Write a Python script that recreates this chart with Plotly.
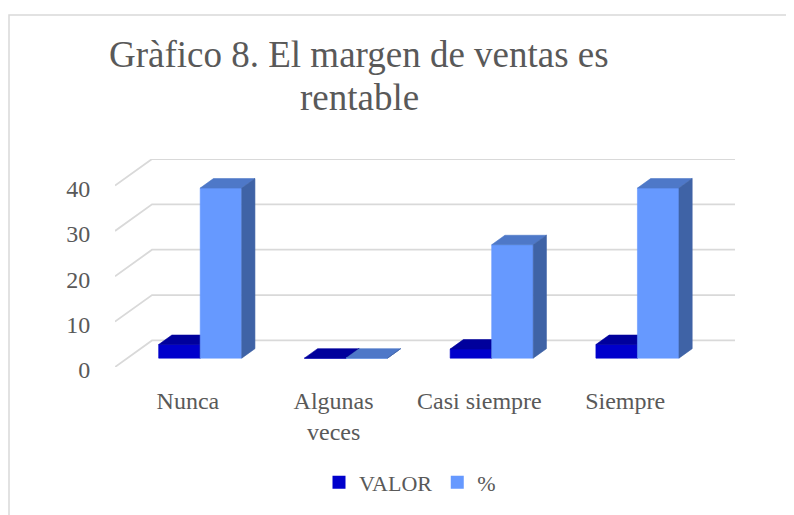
import plotly.graph_objects as go

# ---------------- data ----------------
categories = ["Nunca", "Algunas veces", "Casi siempre", "Siempre"]
tick_labels = ["Nunca", "Algunas<br>veces", "Casi siempre", "Siempre"]
series_names = ["VALOR", "%"]
valor = [3, 0, 2, 3]
porcentaje = [37.5, 0, 25, 37.5]
y_ticks = [0, 10, 20, 30, 40]
title_lines = ["Gràfico 8. El margen de ventas es", "rentable"]

# ---------------- layout / style constants ----------------
OFF = 8                      # default page margin of the html body
W_PX, H_PX = 794 - OFF, 515 - OFF
ML, MT = 115 - OFF, 159 - OFF
PLOT_W, PLOT_H = 620, 211
MR = W_PX - ML - PLOT_W
MB = H_PX - MT - PLOT_H

# oblique projection of the 3-D box (depth vector in data units)
DX, DY = 0.254, 5.86
D0, D1 = 0.333, 0.69      # front / back depth of the bars
BW = 0.285                 # bar width in category units

X_RANGE = [-0.5, len(categories) - 0.5 + DX]
Y_RANGE = [0, max(y_ticks) + DY]

TEXT = "#595959"
GRID = "#D9D9D9"
COLORS = {
    "VALOR": dict(front="#0000CC", top="#00009C", side="#00007A"),
    "%": dict(front="#6699FF", top="#4E78C8", side="#3F63A6"),
}


def px_to_paper_x(px):
    return (px - OFF - ML) / PLOT_W


def px_to_paper_y(py):
    return (MT + PLOT_H - (py - OFF)) / PLOT_H


def bar_faces(values, slot):
    fx, fy, tx, ty, sx, sy = [], [], [], [], [], []
    ddx, ddy = (D1 - D0) * DX, (D1 - D0) * DY
    for i, v in enumerate(values):
        x0 = i + D0 * DX + (slot - 1) * BW
        x1 = x0 + BW
        b = D0 * DY
        t = b + v
        fx += [x0, x1, x1, x0, x0, None]
        fy += [b, b, t, t, b, None]
        tx += [x0, x1, x1 + ddx, x0 + ddx, x0, None]
        ty += [t, t, t + ddy, t + ddy, t, None]
        sx += [x1, x1 + ddx, x1 + ddx, x1, x1, None]
        sy += [b, b + ddy, t + ddy, t, b, None]
    return (fx, fy), (tx, ty), (sx, sy)


fig = go.Figure()

# gridlines: left wall diagonals + back wall horizontals
gx, gy = [], []
for v in y_ticks:
    gx += [X_RANGE[0], X_RANGE[0] + DX, X_RANGE[1], None]
    gy += [v, v + DY, v + DY, None]
fig.add_trace(go.Scatter(x=gx, y=gy, mode="lines", line=dict(color=GRID, width=1.8),
                         hoverinfo="skip", showlegend=False))

# bars (painter's order: VALOR then %)
for slot, (name, vals) in enumerate(zip(series_names, [valor, porcentaje])):
    front, top, side = bar_faces(vals, slot)
    c = COLORS[name]
    for (xs, ys), col in ((front, c["front"]), (top, c["top"]), (side, c["side"])):
        fig.add_trace(go.Scatter(x=xs, y=ys, mode="lines", fill="toself", fillcolor=col,
                                 line=dict(color=col, width=0.6), hoverinfo="skip",
                                 showlegend=False, legendgroup=name))
    fig.add_trace(go.Scatter(x=[None], y=[None], mode="markers", name=name,
                             legendgroup=name,
                             marker=dict(symbol="square", size=13, color=c["front"])))

# title (two centred lines)
for k, line in enumerate(title_lines):
    fig.add_annotation(text=line, xref="paper", yref="paper",
                       x=px_to_paper_x(359), y=px_to_paper_y(53 + k * 44),
                       xanchor="center", yanchor="middle", showarrow=False,
                       font=dict(family="Liberation Serif", size=37, color=TEXT))

# outer chart border
fig.add_shape(type="rect", xref="paper", yref="paper",
              x0=px_to_paper_x(OFF + 1), x1=px_to_paper_x(830),
              y0=px_to_paper_y(540), y1=px_to_paper_y(13),
              line=dict(color=GRID, width=1.5), fillcolor="rgba(0,0,0,0)", layer="below")

fig.update_layout(
    width=W_PX, height=H_PX, autosize=False,
    margin=dict(l=ML, r=MR, t=MT, b=MB, pad=0),
    paper_bgcolor="white", plot_bgcolor="white",
    font=dict(family="Liberation Serif", size=24, color=TEXT),
    showlegend=True,
    legend=dict(orientation="h", x=px_to_paper_x(410), y=px_to_paper_y(487),
                xanchor="center", yanchor="middle",
                font=dict(family="Liberation Serif", size=22, color=TEXT),
                itemwidth=30, tracegroupgap=0),
    xaxis=dict(range=X_RANGE, tickmode="array", tickvals=list(range(len(categories))),
               ticktext=tick_labels, showgrid=False, zeroline=False, showline=False,
               ticks="outside", ticklen=12, tickcolor="rgba(0,0,0,0)", fixedrange=True),
    yaxis=dict(range=Y_RANGE, tickmode="array", tickvals=y_ticks,
               ticktext=[str(v) for v in y_ticks], showgrid=False, zeroline=False,
               showline=False, ticks="outside", ticklen=19, tickcolor="rgba(0,0,0,0)",
               ticklabelshift=3, fixedrange=True),
)

fig.write_html("out.html")
